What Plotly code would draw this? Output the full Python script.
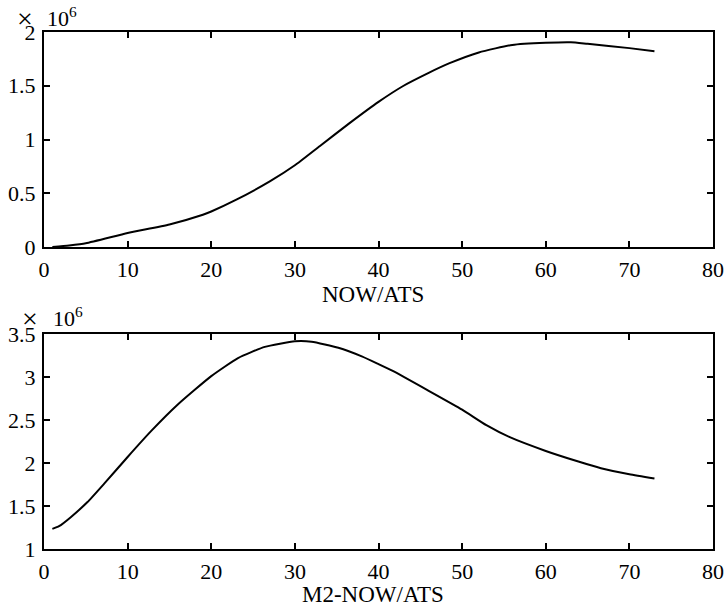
import plotly.graph_objects as go

# Top panel: NOW/ATS (values in units of 10^6)
x_top = [1, 3, 5, 10, 15, 19, 20, 23, 27, 30, 33, 36.5, 40, 43, 46, 48.5, 52, 56, 60, 63, 65, 70, 73]
y_top = [0.0, 0.015, 0.035, 0.13, 0.21, 0.30, 0.33, 0.44, 0.61, 0.76, 0.94, 1.15, 1.35, 1.50, 1.62,
         1.71, 1.81, 1.88, 1.90, 1.905, 1.89, 1.85, 1.82]

# Bottom panel: M2-NOW/ATS (values in units of 10^6)
x_bot = [1, 1.8, 3.2, 5.2, 7.2, 10, 12.8, 16, 20, 23.2, 26.4, 30, 32, 35.2, 38, 40, 41.7, 45.8,
         50, 52.9, 55.7, 60, 63.8, 66.6, 70, 73]
y_bot = [1.234, 1.265, 1.37, 1.546, 1.76, 2.07, 2.37, 2.68, 3.01, 3.22, 3.35, 3.415, 3.41, 3.34,
         3.24, 3.15, 3.07, 2.85, 2.62, 2.44, 2.30, 2.14, 2.02, 1.94, 1.87, 1.82]

x_ticks = [0, 10, 20, 30, 40, 50, 60, 70, 80]
top_yticks = [0, 0.5, 1, 1.5, 2]
top_ylabels = ["0", "0.5", "1", "1.5", "2"]
bot_yticks = [1, 1.5, 2, 2.5, 3, 3.5]
bot_ylabels = ["1", "1.5", "2", "2.5", "3", "3.5"]
top_title = "NOW/ATS"
bot_title = "M2-NOW/ATS"
exp_text = "10<sup>6</sup>"

W, H = 726, 612
FONT = "Liberation Serif"
FS = 22

def px_x(p):
    return p / W

def px_y(p):
    return 1 - p / H

line_style = dict(color="black", width=2, shape="spline", smoothing=0.5)
fig = go.Figure()
fig.add_trace(go.Scatter(x=x_top, y=y_top, mode="lines", line=line_style,
                         xaxis="x", yaxis="y", showlegend=False, hoverinfo="skip"))
fig.add_trace(go.Scatter(x=x_bot, y=y_bot, mode="lines", line=line_style,
                         xaxis="x2", yaxis="y2", showlegend=False, hoverinfo="skip"))

axis_common = dict(showline=True, linecolor="black", linewidth=2, mirror="ticks", ticks="inside",
                   ticklen=6, tickwidth=2, tickcolor="black", showgrid=False, zeroline=False,
                   automargin=False,
                   tickfont=dict(family=FONT, size=FS, color="black"))

xdom = [px_x(44), px_x(713)]
fig.update_layout(
    width=W, height=H,
    margin=dict(l=0, r=0, t=0, b=0),
    paper_bgcolor="white", plot_bgcolor="white",
    xaxis=dict(domain=xdom, range=[0, 80], tickvals=x_ticks, anchor="y",
               ticklabelstandoff=2, **axis_common),
    yaxis=dict(domain=[px_y(247), px_y(32)], range=[0, 2], tickvals=top_yticks,
               ticktext=top_ylabels, anchor="x", ticklabelstandoff=2, **axis_common),
    xaxis2=dict(domain=xdom, range=[0, 80], tickvals=x_ticks, anchor="y2",
                ticklabelstandoff=2, **axis_common),
    yaxis2=dict(domain=[px_y(549), px_y(334)], range=[1, 3.5], tickvals=bot_yticks,
                ticktext=bot_ylabels, anchor="x2", ticklabelstandoff=2, **axis_common),
)

ann_font = dict(family=FONT, size=FS, color="black")
title_font = dict(family=FONT, size=23, color="black")
times_font = dict(family=FONT, size=28, color="black")
xmid = (xdom[0] + xdom[1]) / 2 - 6 / W
annotations = [
    dict(text=top_title, x=xmid, y=px_y(294), xref="paper", yref="paper",
         showarrow=False, font=title_font, xanchor="center", yanchor="middle"),
    dict(text=bot_title, x=xmid, y=px_y(594), xref="paper", yref="paper",
         showarrow=False, font=title_font, xanchor="center", yanchor="middle"),
    dict(text="×", x=px_x(25), y=px_y(18), xref="paper", yref="paper", showarrow=False,
         font=times_font, xanchor="center", yanchor="middle"),
    dict(text=exp_text, x=px_x(45), y=px_y(17), xref="paper", yref="paper", showarrow=False,
         font=ann_font, xanchor="left", yanchor="middle"),
    dict(text="×", x=px_x(30), y=px_y(318), xref="paper", yref="paper", showarrow=False,
         font=times_font, xanchor="center", yanchor="middle"),
    dict(text=exp_text, x=px_x(51), y=px_y(317), xref="paper", yref="paper", showarrow=False,
         font=ann_font, xanchor="left", yanchor="middle"),
]
fig.update_layout(annotations=annotations)

page_fix = ("document.body.style.margin='0';document.body.style.padding='0';"
            "document.body.style.overflow='hidden';"
            "document.documentElement.style.overflow='hidden';")
fig.write_html("out.html", post_script=page_fix,
               config={"displayModeBar": False, "staticPlot": True})
